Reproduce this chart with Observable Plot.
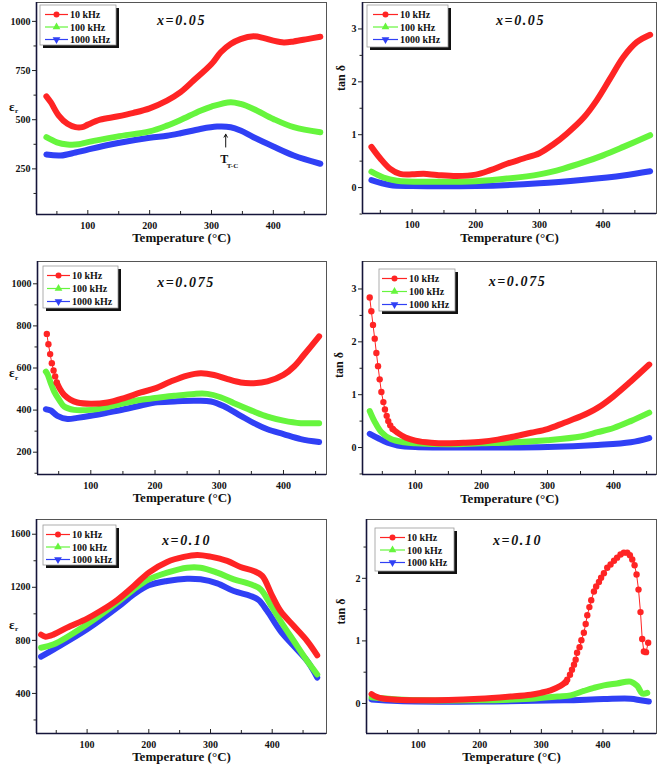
<!DOCTYPE html>
<html><head><meta charset="utf-8">
<script src="https://cdn.jsdelivr.net/npm/d3@7"></script>
<script src="https://cdn.jsdelivr.net/npm/@observablehq/plot@0.6"></script>
<style>
body{margin:0;background:#fff;}
#root{position:relative;width:661px;height:768px;overflow:hidden;background:#fff;}
.panel{position:absolute;}
.panel svg{overflow:visible;display:block;}
</style></head><body><div id="root"></div>
<script>
// ---------- data ----------
const freqs = ["10 kHz", "100 kHz", "1000 kHz"];
const xMajor = [100, 200, 300, 400];
const xMinor = [50, 150, 250, 350, 450];

// x = 0.05, dielectric constant
const p1T10 = [33,40,53,67,80,91,100,120,147,174,200,228,250,271,300,315,331,347,368,385,400,417,433,455,476];
const p1E10 = [619,589,521,479,462,462,475,500,516,535,558,597,640,699,783,843,885,910,924,915,902,893,898,910,922];
const p1T100 = [33,50,67,85,100,147,200,228,250,282,300,331,347,368,400,433,476];
const p1E100 = [411,385,374,375,386,414,441,470,499,546,567,589,580,555,504,462,436];
const p1T1000 = [33,56,80,100,147,200,228,250,282,309,331,347,368,400,433,476];
const p1E1000 = [323,318,333,348,380,408,418,431,453,465,462,445,411,364,318,276];
const p1ArrowT = [323], p1ArrowFrom = [361], p1ArrowTo = [426];
const p1LabelT = [320.5], p1LabelE = [300], p1SubT = [334], p1SubE = [265];

// x = 0.05, tan delta
const p2T10 = [36,50,65,81,100,118,139,170,200,223,249,275,300,322,343,370,390,411,432,453,474];
const p2D10 = [0.77,0.55,0.36,0.26,0.25,0.26,0.24,0.22,0.245,0.33,0.45,0.55,0.65,0.82,1.02,1.33,1.65,2.06,2.47,2.75,2.89];
const p2T100 = [36,55,76,128,200,249,300,338,370,400,432,474];
const p2D100 = [0.30,0.19,0.13,0.11,0.12,0.17,0.25,0.36,0.48,0.61,0.77,0.99];
const p2T1000 = [36,65,100,200,300,370,432,474];
const p2D1000 = [0.14,0.05,0.03,0.03,0.08,0.15,0.23,0.31];

// x = 0.075, dielectric constant
const p3T10s = [31.5,34,36.7,39.3,42,44.5,47];
const p3E10s = [762,713,666,623,588,560,531];
const p3T10 = [47,52,58.5,68,79,100,126,152,178,200,224.5,250,271,292,313,333.5,354,375,400,416.5,432,455.5];
const p3E10 = [531,500,472,450,436,430,436,457,484,503,536,564,575,567,547,531,528,536,567,607,663,750];
const p3T100 = [30,33,37.7,43,50.7,58.5,74,100,126,152,178,200,230,261,281.6,302,323,354,375,400,427,455.5];
const p3E100 = [583,568,528,488,449,417,401,401,414,433,449,457,468,477,477,461,433,393,369,350,338,338];
const p3T1000 = [30,37.7,48,63.7,79,100,126,152,178,200,230,261,287,308,333.5,354,375,400,427,455.5];
const p3E1000 = [404,398,373,358,363,373,388,404,422,436,441,444,441,417,373,338,309,286,262,248];

// x = 0.075, tan delta
const p4T10s = [30.9,33.4,35.9,38.5,41,43.5,46,48.6,51.6,54,56.6,59,62,65.7];
const p4D10s = [2.84,2.58,2.32,2.06,1.79,1.54,1.29,1.05,0.86,0.72,0.60,0.50,0.42,0.35];
const p4T10 = [65.7,73,85,100,124,149,174,200,224.5,250,275,300,325.4,350.6,375.8,400,426,454];
const p4D10 = [0.35,0.28,0.19,0.13,0.09,0.08,0.09,0.11,0.15,0.21,0.28,0.35,0.47,0.59,0.75,0.97,1.25,1.57];
const p4T100 = [31,38,48,63,83,100,149,200,250,300,350.6,375.8,400,426,454];
const p4D100 = [0.69,0.50,0.30,0.16,0.10,0.08,0.06,0.08,0.10,0.14,0.21,0.29,0.37,0.50,0.66];
const p4T1000 = [31,43,58,73,100,200,300,375.8,426,454];
const p4D1000 = [0.26,0.18,0.09,0.04,0.01,0.00,0.01,0.05,0.10,0.18];

// x = 0.10, dielectric constant
const p5T10 = [25.4,32.4,46,67.6,100,121.6,148.6,175.7,200,229.7,256.8,278.4,300,327,348.6,370,383.8,400,413.5,435,456.8,473];
const p5E10 = [843,828,845,896,964,1021,1104,1210,1311,1391,1429,1444,1431,1399,1353,1323,1286,1135,1021,908,795,687];
const p5T100 = [25.4,46,100,148.6,175.7,200,229.7,262,283.8,310.8,337.8,364.9,381,397,413.5,435,456.8,473];
const p5E100 = [745,770,921,1084,1185,1260,1311,1348,1348,1311,1260,1223,1185,1072,946,795,644,543];
const p5T1000 = [25.4,46,100,148.6,175.7,200,229.7,262,283.8,310.8,337.8,364.9,378,392,413.5,435,456.8,473];
const p5E1000 = [677,732,883,1046,1147,1215,1248,1265,1260,1230,1172,1135,1104,1021,870,757,644,520];

// x = 0.10, tan delta
const p6T10 = [24.3,31,45,100,199,250,282.7,299,315,331,339.5];
const p6D10 = [0.15,0.11,0.075,0.05,0.075,0.11,0.14,0.17,0.21,0.28,0.34];
const p6T10s = [339.5,342,346.5,349.7,353,355.7,358,362,365,369,372,374.6,378,381,385.4,389,393.5,397,401.6,407,412.4,418,423,428.6,434,439.5,443.8,447.6,451.4,454.6,457.8,461,463.8,466.5,470,473.5];
const p6D10s = [0.34,0.38,0.46,0.54,0.62,0.70,0.81,0.90,1.01,1.13,1.27,1.41,1.54,1.65,1.79,1.87,1.94,2.01,2.08,2.17,2.22,2.28,2.33,2.38,2.41,2.41,2.37,2.30,2.21,2.06,1.82,1.46,1.03,0.83,0.82,0.97];
const p6T100 = [24.3,66.5,199,282.7,326,347.6,369,385.4,401.6,423,444.9,455.7,463.8,472];
const p6D100 = [0.10,0.065,0.05,0.075,0.11,0.13,0.20,0.25,0.29,0.32,0.35,0.28,0.16,0.17];
const p6T1000 = [24.3,66.5,199,336.7,401.6,445,461,474.6];
const p6D1000 = [0.065,0.04,0.03,0.05,0.07,0.075,0.05,0.03];

// ---------- drawing ----------
const FONT = '"Liberation Serif","Times New Roman",serif';
const colors = ["#ff2424", "#66f53d", "#3040f5"];
const mk = (T, V) => T.map((t, i) => ({t, v: V[i]}));
const fmt = d => String(d);

function panel(cfg) {
  const innerH = cfg.height - cfg.m[0] - cfg.m[2];
  const dense = [cfg.s1000, cfg.s100, cfg.s10]; // draw order blue, green, red
  const dcol = [colors[2], colors[1], colors[0]];
  const marks = [
    Plot.frame({stroke: "#555", strokeWidth: 1}),
    Plot.ruleX([cfg.xd[0]], {stroke: "#15153a", strokeWidth: 1.6}),
    Plot.ruleY([cfg.yd[0]], {stroke: "#15153a", strokeWidth: 1.6}),
    Plot.axisY({ticks: cfg.yMajor, tickSize: 4, tickPadding: 2, tickFormat: fmt, label: null, fontSize: 10, fontWeight: "bold", stroke: "#222"}),
    Plot.axisY({ticks: cfg.yMinor, tickSize: 2.5, tickFormat: () => "", label: null, stroke: "#222"}),
    Plot.tickX(xMajor, {x: d => d, insetTop: innerH - 4, stroke: "#222"}),
    Plot.tickX(xMinor, {x: d => d, insetTop: innerH - 3, stroke: "#222"}),
    Plot.axisX({ticks: xMajor, tickSize: 0, tickPadding: 7, tickFormat: fmt, label: null, fontSize: 10, fontWeight: "bold"}),
    ...dense.map((d, i) => Plot.line(d, {x: "t", y: "v", stroke: dcol[i], strokeWidth: 6, curve: "catmull-rom", strokeLinecap: "round", strokeLinejoin: "round"})),
  ];
  if (cfg.sparse) {
    marks.push(Plot.line(cfg.sparse, {x: "t", y: "v", stroke: colors[0], strokeWidth: 1}));
    marks.push(Plot.dot(cfg.sparse, {x: "t", y: "v", r: 3.2, fill: colors[0], stroke: "none"}));
  }
  marks.push(Plot.text([cfg.title], {frameAnchor: "top", dx: cfg.tdx, dy: cfg.tdy, fontSize: 14, fontWeight: "bold", fontStyle: "italic", fill: "#111"}));
  marks.push(Plot.text(["Temperature (°C)"], {frameAnchor: "bottom", dy: cfg.xldy, fontSize: 13, fontWeight: "bold", fill: "#111"}));
  if (cfg.ylab === "eps") {
    marks.push(Plot.text(["ε"], {frameAnchor: "left", dx: cfg.yldx, dy: cfg.yldy, fontSize: 13, fontWeight: "bold", fill: "#111"}));
    marks.push(Plot.text(["r"], {frameAnchor: "left", dx: cfg.yldx + 6, dy: cfg.yldy + 4.5, fontSize: 7, fontWeight: "bold", fill: "#111"}));
  } else {
    marks.push(Plot.text(["tan δ"], {frameAnchor: "left", dx: cfg.yldx, dy: cfg.yldy, rotate: -90, fontSize: 12, fontWeight: "bold", fill: "#111"}));
  }
  if (cfg.extra) marks.push(...cfg.extra);

  const svg = Plot.plot({
    width: cfg.width, height: cfg.height,
    marginTop: cfg.m[0], marginRight: cfg.m[1], marginBottom: cfg.m[2], marginLeft: cfg.m[3],
    x: {domain: cfg.xd, label: null},
    y: {domain: cfg.yd, label: null},
    style: {fontFamily: FONT, fontSize: "10px", color: "#111", background: "transparent"},
    marks
  });
  // letter spacing for the composition title
  d3.select(svg).selectAll("text").filter(function() { return this.textContent.startsWith("x="); })
    .attr("letter-spacing", "1.6px");

  // legend
  const L = cfg.legend; // [x, y, w, h, rowGap, lineX0, lineX1, textX]
  const g = d3.select(svg).append("g").attr("font-family", FONT).attr("font-weight", "bold").attr("font-size", 10).attr("text-anchor", "start");
  g.append("rect").attr("x", L[0] + 3).attr("y", L[1] + 3).attr("width", L[2]).attr("height", L[3]).attr("fill", "#111");
  g.append("rect").attr("x", L[0]).attr("y", L[1]).attr("width", L[2]).attr("height", L[3]).attr("fill", "#fff").attr("stroke", "#999").attr("stroke-width", 0.8);
  const syms = [d3.symbolCircle, d3.symbolTriangle, d3.symbolTriangle];
  freqs.forEach((f, i) => {
    const cy = L[1] + 9.5 + i * L[4];
    g.append("line").attr("x1", L[5]).attr("x2", L[6]).attr("y1", cy).attr("y2", cy).attr("stroke", colors[i]).attr("stroke-width", 1.2);
    g.append("path").attr("d", d3.symbol(syms[i], i === 0 ? 28 : 26)())
      .attr("transform", `translate(${(L[5] + L[6]) / 2},${cy})` + (i === 2 ? " rotate(180)" : ""))
      .attr("fill", colors[i]);
    g.append("text").attr("x", L[7]).attr("y", cy).attr("dy", "0.35em").attr("fill", "#111").attr("text-anchor", "start").text(f);
  });

  const div = document.createElement("div");
  div.className = "panel";
  div.style.left = cfg.left + "px";
  div.style.top = cfg.top + "px";
  div.appendChild(svg);
  document.getElementById("root").appendChild(div);
}

const epsMinor1 = [125, 375, 625, 875];

panel({left: 0, top: 0, width: 330, height: 256, m: [2, 4, 42, 36],
  xd: [17, 486], yd: [18, 1096], yMajor: [250, 500, 750, 1000], yMinor: epsMinor1,
  s10: mk(p1T10, p1E10), s100: mk(p1T100, p1E100), s1000: mk(p1T1000, p1E1000),
  title: "x=0.05", tdx: 0, tdy: 13, xldy: 27, ylab: "eps", yldx: -27.5, yldy: -2,
  legend: [40, 5, 76, 40, 12.5, 45, 68, 70],
  extra: [
    Plot.arrow(p1ArrowT, {x1: d => d, x2: d => d, y1: p1ArrowFrom, y2: p1ArrowTo, stroke: "#111", strokeWidth: 1, headLength: 5}),
    Plot.text(p1ArrowT.map((d, i) => ({t: p1LabelT[i], v: p1LabelE[i]})), {x: "t", y: "v", text: () => "T", fontSize: 12, fontWeight: "bold", fill: "#111"}),
    Plot.text(p1ArrowT.map((d, i) => ({t: p1SubT[i], v: p1SubE[i]})), {x: "t", y: "v", text: () => "T-C", fontSize: 7, fontWeight: "bold", fill: "#111"})
  ]});

panel({left: 330, top: 0, width: 331, height: 256, m: [2, 5, 43, 32],
  xd: [22, 484], yd: [-0.49, 3.5], yMajor: [0, 1, 2, 3], yMinor: [-0.5, 0.5, 1.5, 2.5],
  s10: mk(p2T10, p2D10), s100: mk(p2T100, p2D100), s1000: mk(p2T1000, p2D1000),
  title: "x=0.05", tdx: 11, tdy: 13, xldy: 28, ylab: "tan", yldx: -21, yldy: -17,
  legend: [37, 5, 81, 42, 12.5, 43, 68, 70]});

panel({left: 0, top: 256, width: 330, height: 256, m: [5, 4, 38, 37],
  xd: [17, 467], yd: [94, 1106], yMajor: [200, 400, 600, 800, 1000], yMinor: [100, 300, 500, 700, 900],
  s10: mk(p3T10, p3E10), s100: mk(p3T100, p3E100), s1000: mk(p3T1000, p3E1000), sparse: mk(p3T10s, p3E10s),
  title: "x=0.075", tdx: 4, tdy: 16, xldy: 27, ylab: "eps", yldx: -28.5, yldy: 5,
  legend: [43, 10, 75, 42, 13, 47, 70, 72]});

panel({left: 330, top: 256, width: 331, height: 256, m: [5, 5, 38, 32],
  xd: [20, 465], yd: [-0.51, 3.52], yMajor: [0, 1, 2, 3], yMinor: [-0.5, 0.5, 1.5, 2.5],
  s10: mk(p4T10, p4D10), s100: mk(p4T100, p4D100), s1000: mk(p4T1000, p4D1000), sparse: mk(p4T10s, p4D10s),
  title: "x=0.075", tdx: 8, tdy: 15, xldy: 28, ylab: "tan", yldx: -23, yldy: 10,
  legend: [49, 13, 76, 42, 13, 52, 77, 79]});

panel({left: 0, top: 512, width: 330, height: 256, m: [7, 4, 35, 36],
  xd: [18, 488], yd: [98, 1711], yMajor: [400, 800, 1200, 1600], yMinor: [200, 600, 1000, 1400],
  s10: mk(p5T10, p5E10), s100: mk(p5T100, p5E100), s1000: mk(p5T1000, p5E1000),
  title: "x=0.10", tdx: 5, tdy: 16, xldy: 27, ylab: "eps", yldx: -27.5, yldy: -2,
  legend: [43, 13, 73, 40, 12.5, 46, 70, 72]});

panel({left: 330, top: 512, width: 331, height: 256, m: [7, 5, 35, 36],
  xd: [16, 487], yd: [-0.48, 2.94], yMajor: [0, 1, 2], yMinor: [0.5, 1.5, 2.5],
  s10: mk(p6T10, p6D10), s100: mk(p6T100, p6D100), s1000: mk(p6T1000, p6D1000), sparse: mk(p6T10s, p6D10s),
  title: "x=0.10", tdx: 6, tdy: 16, xldy: 27, ylab: "tan", yldx: -25, yldy: -2,
  legend: [45, 16, 79, 43, 12.5, 50, 75, 77]});
</script></body></html>
